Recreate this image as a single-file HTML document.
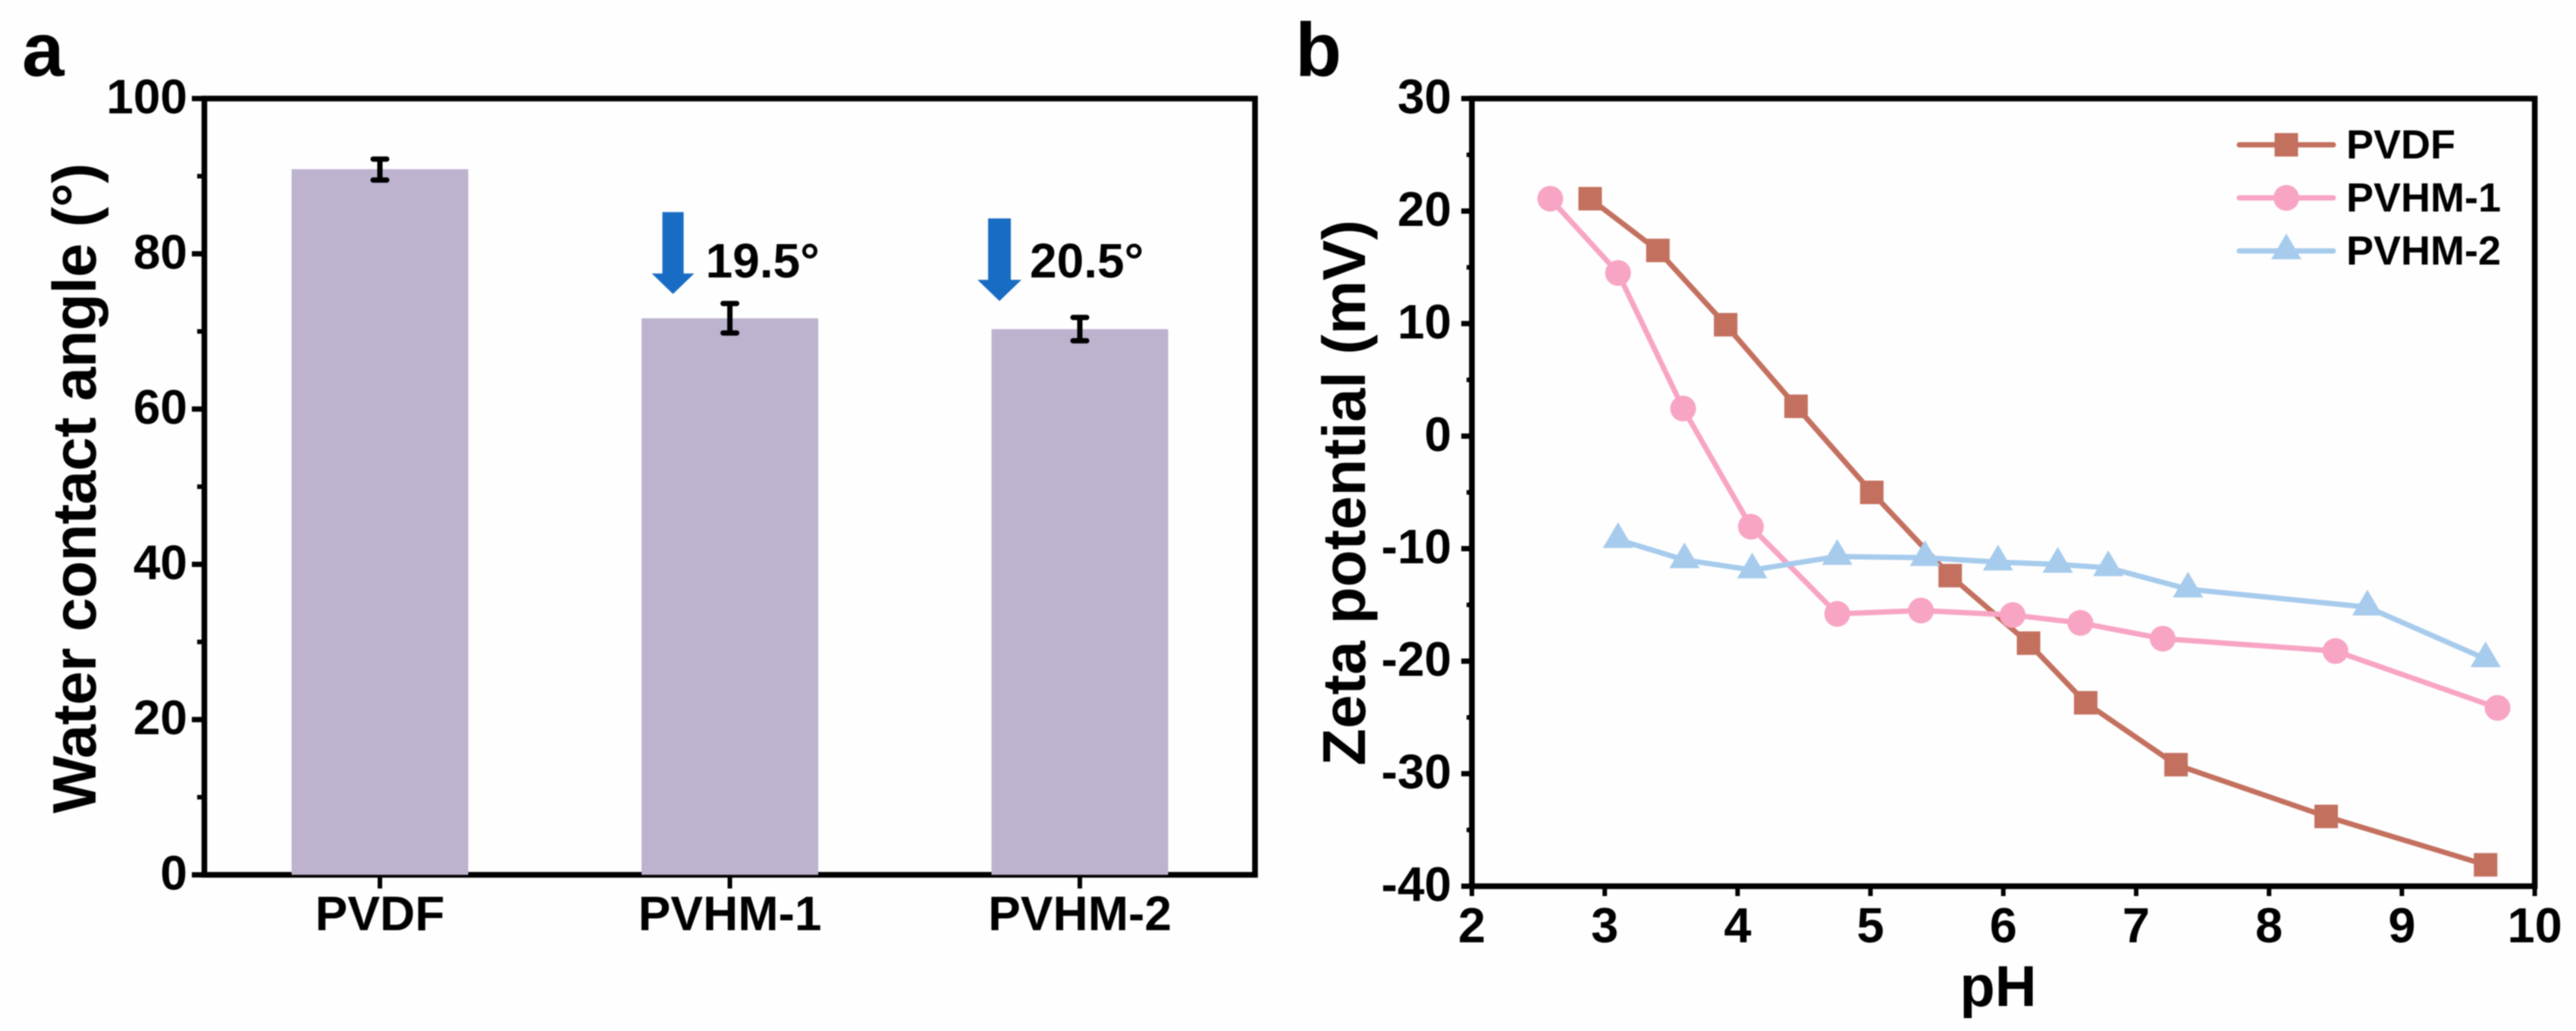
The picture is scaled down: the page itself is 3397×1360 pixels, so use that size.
<!DOCTYPE html>
<html lang="en">
<head>
<meta charset="utf-8">
<title>Water contact angle and zeta potential</title>
<style>
  html, body { margin: 0; padding: 0; background: #fefefe; }
  svg { display: block; filter: blur(0.7px); }
  text { font-family: "Liberation Sans", Arial, sans-serif; font-weight: 700; fill: #000; }
</style>
</head>
<body>
<svg id="figure" xmlns="http://www.w3.org/2000/svg" width="3397" height="1360" viewBox="0 0 3397 1360">
  <rect x="0" y="0" width="3397" height="1360" fill="#fefefe"/>

  <g id="panel-a">
    <text x="29" y="100" font-size="100">a</text>
    <text transform="translate(126 644) rotate(-90)" text-anchor="middle" font-size="80.5" textLength="858">Water contact angle (°)</text>
  </g>

  <g id="panel-b">
    <text x="1708" y="100" font-size="100">b</text>
    <text transform="translate(1800 650) rotate(-90)" text-anchor="middle" font-size="80" textLength="720">Zeta potential (mV)</text>
    <text x="2635" y="1327" text-anchor="middle" font-size="76">pH</text>
  </g>
</svg>

<script>
// ---- Panel a data ----
const barCategories = ['PVDF', 'PVHM-1', 'PVHM-2'];
const barValues = [90.9, 71.7, 70.3];
const barErrHigh = [92.2, 73.6, 71.8];
const barErrLow = [89.5, 69.8, 68.8];
const barYTicks = [0, 20, 40, 60, 80, 100];
const barYMinorTicks = [10, 30, 50, 70, 90];
const barDrops = ['19.5°', '20.5°'];

// ---- Panel b data ----
const lineSeriesNames = ['PVDF', 'PVHM-1', 'PVHM-2'];
const pvdfPH = [2.89, 3.40, 3.91, 4.44, 5.01, 5.60, 6.19, 6.62, 7.30, 8.43, 9.63];
const pvdfZeta = [21.1, 16.5, 9.9, 2.65, -5.0, -12.4, -18.4, -23.7, -29.2, -33.8, -38.1];
const pvhm1PH = [2.59, 3.10, 3.59, 4.10, 4.75, 5.38, 6.07, 6.58, 7.20, 8.50, 9.72];
const pvhm1Zeta = [21.1, 14.5, 2.45, -8.05, -15.8, -15.5, -15.9, -16.6, -18.0, -19.1, -24.15];
const pvhm2PH = [3.10, 3.60, 4.11, 4.75, 5.41, 5.96, 6.41, 6.79, 7.39, 8.74, 9.63];
const pvhm2Zeta = [-9.2, -11.0, -11.9, -10.7, -10.8, -11.2, -11.4, -11.7, -13.6, -15.2, -19.8];
const lineXTicks = [2, 3, 4, 5, 6, 7, 8, 9, 10];
const lineYTicks = [-40, -30, -20, -10, 0, 10, 20, 30];
const lineYMinorTicks = [-35, -25, -15, -5, 5, 15, 25];

// ---- Axis functions ----
const aY = v => 1154 - (v / 100) * 1024;
const aX = i => 501 + i * 461.5;
const bX = v => 1941 + (v - 2) * 175.2;
const bY = v => 1169 - (v + 40) * (1039 / 70);

const NS = 'http://www.w3.org/2000/svg';
function mk(parent, tag, attrs, txt) {
  const n = document.createElementNS(NS, tag);
  for (const k in attrs) n.setAttribute(k, attrs[k]);
  if (txt !== undefined) n.textContent = txt;
  parent.appendChild(n);
  return n;
}
function seg(parent, x1, y1, x2, y2, w) {
  return mk(parent, 'line', { x1, y1, x2, y2, stroke: '#000', 'stroke-width': w });
}
const panelA = document.getElementById('panel-a');
const panelB = document.getElementById('panel-b');

// ---- Panel a axes ----
const aFrame = mk(panelA, 'path', { d: 'M269.5 ' + aY(100) + 'H1655V' + aY(0) + 'H269.5Z', fill: 'none', stroke: '#000', 'stroke-width': 7.5 });



barYTicks.forEach(v => {
  const t = seg(panelA, 253, aY(v), 269, aY(v), 7);
  
  
  const l = mk(panelA, 'text', { x: 247, y: aY(v) + 19.5, 'text-anchor': 'end', 'font-size': 64 }, String(v));
  
  
});
barYMinorTicks.forEach(v => {
  const t = seg(panelA, 260, aY(v), 269, aY(v), 6);
  
  
});

// ---- Panel a bars ----
barCategories.forEach((c, i) => {
  const x = aX(i);
  const t = seg(panelA, x, aY(0), x, 1172, 6);
  
  
  const bar = mk(panelA, 'rect', { x: x - 116.5, y: aY(barValues[i]), width: 233, height: aY(0) - aY(barValues[i]), fill: '#bdb3cf' });
  
  
  const e = mk(panelA, 'path', {
    d: 'M' + (x - 9) + ' ' + aY(barErrHigh[i]) + 'H' + (x + 9) + 'M' + x + ' ' + aY(barErrHigh[i]) + 'V' + aY(barErrLow[i]) + 'M' + (x - 9) + ' ' + aY(barErrLow[i]) + 'H' + (x + 9),
    fill: 'none', stroke: '#000', 'stroke-width': 7, 'stroke-linecap': 'round'
  });
  
  
  const l = mk(panelA, 'text', { x: x, y: 1227, 'text-anchor': 'middle', 'font-size': 64 }, c);
  
  
});

// ---- Panel a drop annotations (each arrow sits above its bar) ----
barDrops.forEach((txt, i) => {
  const top = aY(barValues[i + 1]) - (i === 0 ? 140 : 146);
  const cx = aX(i + 1) + (i === 0 ? -75 : -106);
  const hw = i === 0 ? 14 : 15;
  const headW = i === 0 ? 28 : 29;
  const headTop = top + 81;
  const tip = top + (i === 0 ? 108 : 109);
  const a = mk(panelA, 'polygon', {
    points: [[cx - hw, top], [cx + hw, top], [cx + hw, headTop], [cx + headW, headTop], [cx, tip], [cx - headW, headTop], [cx - hw, headTop]].map(p => p.join(',')).join(' '),
    fill: '#196cc3'
  });
  
  
  const l = mk(panelA, 'text', { x: cx + (i === 0 ? 43 : 40), y: 366, 'font-size': 64 }, txt);
  
  
});

// ---- Panel b axes ----
const bFrame = mk(panelB, 'path', { d: 'M' + bX(2) + ' ' + bY(30) + 'H' + bX(10) + 'V' + bY(-40) + 'H' + bX(2) + 'Z', fill: 'none', stroke: '#000', 'stroke-width': 7.5 });



lineYTicks.forEach(v => {
  const t = seg(panelB, 1927, bY(v), 1941, bY(v), 7);
  
  
  const l = mk(panelB, 'text', { x: 1914, y: bY(v) + 19.5, 'text-anchor': 'end', 'font-size': 64 }, String(v));
  
  
});
lineYMinorTicks.forEach(v => {
  const t = seg(panelB, 1934, bY(v), 1941, bY(v), 6);
  
  
});
lineXTicks.forEach(v => {
  const t = seg(panelB, bX(v), bY(-40), bX(v), 1182, 6);
  
  
  const l = mk(panelB, 'text', { x: bX(v), y: 1243, 'text-anchor': 'middle', 'font-size': 65 }, String(v));
  
  
});

// ---- Panel b series ----
const seriesX = [pvdfPH, pvhm1PH, pvhm2PH];
const seriesY = [pvdfZeta, pvhm1Zeta, pvhm2Zeta];
const lineColors = ['#c4705f', '#f8a4c4', '#a6cbec'];

function marker(parent, kind, x, y, color) {
  if (kind === 0) return mk(parent, 'rect', { x: x - 15.5, y: y - 15.5, width: 31, height: 31, fill: color });
  if (kind === 1) return mk(parent, 'circle', { cx: x, cy: y, r: 17, fill: color });
  return mk(parent, 'polygon', { points: (x - 20) + ',' + (y + 11) + ' ' + x + ',' + (y - 23) + ' ' + (x + 20) + ',' + (y + 11), fill: color });
}

lineSeriesNames.forEach((name, s) => {
  const slug = name.toLowerCase();
  const g = mk(panelB, 'g', {});
  
  
  const pts = seriesX[s].map((px, i) => bX(px) + ',' + bY(seriesY[s][i])).join(' ');
  const pl = mk(g, 'polyline', { points: pts, fill: 'none', stroke: lineColors[s], 'stroke-width': 7, 'stroke-linejoin': 'round' });
  
  
  seriesX[s].forEach((px, i) => {
    const m = marker(g, s, bX(px), bY(seriesY[s][i]), lineColors[s]);
    
    
  });

  // legend entry
  const ly = 191 + s * 70;
  const lg = mk(panelB, 'g', {});
  
  
  const ln = mk(lg, 'line', { x1: 2953, y1: ly, x2: 3077, y2: ly, stroke: lineColors[s], 'stroke-width': 7, 'stroke-linecap': 'round' });
  
  
  const lm = marker(lg, s, 3015, ly, lineColors[s]);
  
  
  const lt = mk(lg, 'text', { x: 3094, y: ly + 18, 'font-size': 54 }, name);
  
  
});
</script>
</body>
</html>
